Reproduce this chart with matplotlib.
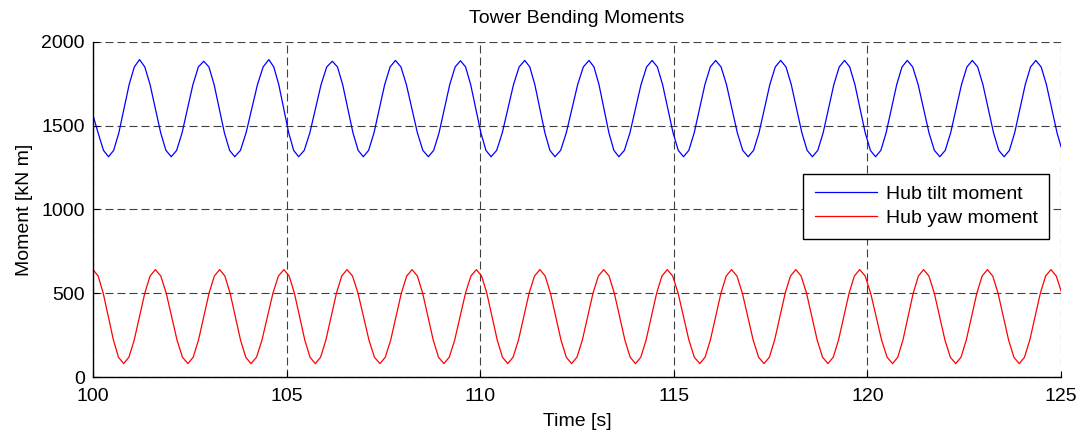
import numpy as np
import matplotlib
matplotlib.use('Agg')
import matplotlib.pyplot as plt

plt.rcParams['font.family'] = ['Liberation Sans', 'DejaVu Sans']

# hub tilt moment (blue), kN m
t_tilt = [100.00, 100.13, 100.27, 100.40,
          100.533, 100.667, 100.80, 100.933, 101.067, 101.20, 101.337, 101.473, 101.61, 101.747, 101.883, 102.02,
          102.16, 102.30, 102.44, 102.58, 102.72, 102.86, 102.993, 103.127, 103.26, 103.393, 103.527, 103.66,
          103.807, 103.953, 104.10, 104.247, 104.393, 104.54, 104.668, 104.797, 104.925, 105.053, 105.182, 105.31,
          105.455, 105.60, 105.745, 105.89, 106.035, 106.18, 106.313, 106.447, 106.58, 106.713, 106.847, 106.98,
          107.118, 107.257, 107.395, 107.533, 107.672, 107.81, 107.952, 108.093, 108.235, 108.377, 108.518, 108.66,
          108.798, 108.937, 109.075, 109.213, 109.352, 109.49, 109.622, 109.753, 109.885, 110.017, 110.148, 110.28,
          110.425, 110.57, 110.715, 110.86, 111.005, 111.15, 111.28, 111.41, 111.54, 111.67, 111.80, 111.93,
          112.077, 112.223, 112.37, 112.517, 112.663, 112.81, 112.938, 113.067, 113.195, 113.323, 113.452, 113.58,
          113.723, 113.867, 114.01, 114.153, 114.297, 114.44, 114.575, 114.71, 114.845, 114.98, 115.115, 115.25,
          115.388, 115.527, 115.665, 115.803, 115.942, 116.08, 116.22, 116.36, 116.50, 116.64, 116.78, 116.92,
          117.06, 117.20, 117.34, 117.48, 117.62, 117.76, 117.897, 118.033, 118.17, 118.307, 118.443, 118.58,
          118.718, 118.857, 118.995, 119.133, 119.272, 119.41, 119.543, 119.677, 119.81, 119.943, 120.077, 120.21,
          120.347, 120.483, 120.62, 120.757, 120.893, 121.03, 121.17, 121.31, 121.45, 121.59, 121.73, 121.87,
          122.01, 122.15, 122.29, 122.43, 122.57, 122.71, 122.847, 122.983, 123.12, 123.257, 123.393, 123.53,
          123.667, 123.803, 123.94, 124.077, 124.213, 124.35, 124.487, 124.623, 124.76, 124.897, 125.00]
m_tilt = [1562, 1458, 1353, 1315,
          1353, 1458, 1602, 1746, 1851, 1895, 1851, 1746, 1602, 1458, 1353, 1315,
          1353, 1458, 1602, 1746, 1851, 1885, 1851, 1746, 1602, 1458, 1353, 1315,
          1353, 1458, 1602, 1746, 1851, 1895, 1851, 1746, 1602, 1458, 1353, 1315,
          1353, 1458, 1602, 1746, 1851, 1885, 1851, 1746, 1602, 1458, 1353, 1315,
          1353, 1458, 1602, 1746, 1851, 1890, 1851, 1746, 1602, 1458, 1353, 1315,
          1353, 1458, 1602, 1746, 1851, 1888, 1851, 1746, 1602, 1458, 1353, 1315,
          1353, 1458, 1602, 1746, 1851, 1890, 1851, 1746, 1602, 1458, 1353, 1315,
          1353, 1458, 1602, 1746, 1851, 1890, 1851, 1746, 1602, 1458, 1353, 1315,
          1353, 1458, 1602, 1746, 1851, 1890, 1851, 1746, 1602, 1458, 1353, 1315,
          1353, 1458, 1602, 1746, 1851, 1890, 1851, 1746, 1602, 1458, 1353, 1315,
          1353, 1458, 1602, 1746, 1851, 1890, 1851, 1746, 1602, 1458, 1353, 1315,
          1353, 1458, 1602, 1746, 1851, 1890, 1851, 1746, 1602, 1458, 1353, 1315,
          1353, 1458, 1602, 1746, 1851, 1890, 1851, 1746, 1602, 1458, 1353, 1315,
          1353, 1458, 1602, 1746, 1851, 1890, 1851, 1746, 1602, 1458, 1353, 1315,
          1353, 1458, 1602, 1746, 1851, 1890, 1851, 1746, 1602, 1458, 1375]

# hub yaw moment (red)
t_yaw = [100.00,
         100.132, 100.263, 100.395, 100.527, 100.658, 100.79, 100.927, 101.063, 101.20, 101.337, 101.473, 101.61,
         101.75, 101.89, 102.03, 102.17, 102.31, 102.45, 102.587, 102.723, 102.86, 102.997, 103.133, 103.27,
         103.405, 103.54, 103.675, 103.81, 103.945, 104.08, 104.222, 104.363, 104.505, 104.647, 104.788, 104.93,
         105.065, 105.20, 105.335, 105.47, 105.605, 105.74, 105.877, 106.013, 106.15, 106.287, 106.423, 106.56,
         106.702, 106.843, 106.985, 107.127, 107.268, 107.41, 107.548, 107.687, 107.825, 107.963, 108.102, 108.24,
         108.377, 108.513, 108.65, 108.787, 108.923, 109.06, 109.20, 109.34, 109.48, 109.62, 109.76, 109.90,
         110.035, 110.17, 110.305, 110.44, 110.575, 110.71, 110.848, 110.987, 111.125, 111.263, 111.402, 111.54,
         111.677, 111.813, 111.95, 112.087, 112.223, 112.36, 112.498, 112.637, 112.775, 112.913, 113.052, 113.19,
         113.327, 113.463, 113.60, 113.737, 113.873, 114.01, 114.147, 114.283, 114.42, 114.557, 114.693, 114.83,
         114.97, 115.11, 115.25, 115.39, 115.53, 115.67, 115.807, 115.943, 116.08, 116.217, 116.353, 116.49,
         116.63, 116.77, 116.91, 117.05, 117.19, 117.33, 117.467, 117.603, 117.74, 117.877, 118.013, 118.15,
         118.288, 118.427, 118.565, 118.703, 118.842, 118.98, 119.117, 119.253, 119.39, 119.527, 119.663, 119.80,
         119.942, 120.083, 120.225, 120.367, 120.508, 120.65, 120.783, 120.917, 121.05, 121.183, 121.317, 121.45,
         121.588, 121.727, 121.865, 122.003, 122.142, 122.28, 122.417, 122.553, 122.69, 122.827, 122.963, 123.10,
         123.237, 123.373, 123.51, 123.647, 123.783, 123.92, 124.057, 124.193, 124.33, 124.467, 124.603, 124.74,
         124.877, 125.00]
m_yaw = [641,
         603, 501, 360, 220, 118, 80, 118, 220, 360, 501, 603, 641,
         603, 501, 360, 220, 118, 80, 118, 220, 360, 501, 603, 641,
         603, 501, 360, 220, 118, 80, 118, 220, 360, 501, 603, 641,
         603, 501, 360, 220, 118, 80, 118, 220, 360, 501, 603, 641,
         603, 501, 360, 220, 118, 80, 118, 220, 360, 501, 603, 641,
         603, 501, 360, 220, 118, 80, 118, 220, 360, 501, 603, 641,
         603, 501, 360, 220, 118, 80, 118, 220, 360, 501, 603, 641,
         603, 501, 360, 220, 118, 80, 118, 220, 360, 501, 603, 641,
         603, 501, 360, 220, 118, 80, 118, 220, 360, 501, 603, 641,
         603, 501, 360, 220, 118, 80, 118, 220, 360, 501, 603, 641,
         603, 501, 360, 220, 118, 80, 118, 220, 360, 501, 603, 641,
         603, 501, 360, 220, 118, 80, 118, 220, 360, 501, 603, 641,
         603, 501, 360, 220, 118, 80, 118, 220, 360, 501, 603, 641,
         603, 501, 360, 220, 118, 80, 118, 220, 360, 501, 603, 641,
         603, 501, 360, 220, 118, 80, 118, 220, 360, 501, 603, 641,
         603, 515]

xticks = [100, 105, 110, 115, 120, 125]
yticks = [0, 500, 1000, 1500, 2000]

fig = plt.figure(figsize=(10.83, 4.36), dpi=100)
ax = fig.add_axes([0.0859, 0.1353, 0.8938, 0.7684])

ax.plot(t_tilt, m_tilt, color='#0000ff', lw=0.9, label='Hub tilt moment')
ax.plot(t_yaw, m_yaw, color='#ff0000', lw=0.9, label='Hub yaw moment')

ax.set_xlim(100, 125)
ax.set_ylim(0, 2000)
ax.set_xticks(xticks)
ax.set_yticks(yticks)
ax.grid(True, color='#404040', lw=0.8, linestyle=(0, (7.2, 3.6)))
ax.tick_params(direction='in', length=4, labelsize=14)
ax.tick_params(axis='x', pad=8)
ax.tick_params(axis='y', pad=6)
for s in ['top', 'right']:
    ax.spines[s].set_visible(False)
ax.spines['left'].set_linewidth(1.0)
ax.spines['bottom'].set_linewidth(1.0)

ax.set_title('Tower Bending Moments', fontsize=14, pad=14)
ax.set_xlabel('Time [s]', fontsize=14, labelpad=6)
ax.set_ylabel('Moment [kN m]', fontsize=14, labelpad=6)

leg = ax.legend(loc='upper right', bbox_to_anchor=(0.988, 0.606), fontsize=14,
                fancybox=False, framealpha=1, edgecolor='black', handlelength=3.2,
                borderpad=0.6, labelspacing=0.32, handletextpad=0.45, borderaxespad=0)
leg.get_frame().set_linewidth(1.0)

fig.savefig('out.png', dpi=100)
